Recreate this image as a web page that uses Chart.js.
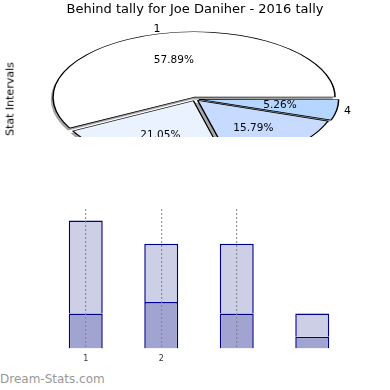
<!DOCTYPE html>
<html>
<head>
<meta charset="utf-8">
<script src="https://cdn.jsdelivr.net/npm/chart.js@4.4.1/dist/chart.umd.min.js"></script>
<style>
  html, body { margin: 0; padding: 0; background: #fff; }
  body { width: 390px; height: 390px; position: relative; overflow: hidden; font-family: "DejaVu Sans", sans-serif; }
  #title { position: absolute; left: 0; width: 390px; top: 1px; text-align: center; font-size: 13px; color: #000; }
  #ylab { position: absolute; left: 10px; top: 99px; transform: translate(-50%, -50%) rotate(-90deg); font-size: 11px; white-space: nowrap; color: #000; }
  #footer { position: absolute; left: 0; top: 372px; font-size: 12px; color: #999; }
  #pie { position: absolute; left: 0; top: 0; }
  #bars { position: absolute; left: 0; top: 200px; }
</style>
</head>
<body>
<canvas id="pie" width="390" height="137"></canvas>
<canvas id="bars" width="390" height="170"></canvas>
<div id="title">Behind tally for Joe Daniher - 2016 tally</div>
<div id="ylab">Stat Intervals</div>
<div id="footer">Dream-Stats.com</div>
<script>
// ---- data ----
const pieCategories = ["1", "2", "3", "4"];
const pieValues = [11, 4, 3, 1];
const pieColors = ["#ffffff", "#ebf2ff", "#c6dbff", "#b4d6ff"];

const barCategories = ["1", "2", "3", "4"];
const barTickLabels = ["1", "2", "", ""];
const barLower = [3, 4, 3, 1];
const barUpper = [8, 5, 6, 2];

// ---- pie (drawn counter-clockwise from east, squashed vertically) ----
const squash = 0.464;
const pieTotal = pieValues.reduce((a, b) => a + b, 0);
const revLabels = pieCategories.slice().reverse();
const revValues = pieValues.slice().reverse();
const revColors = pieColors.slice().reverse();

function arcShift(el) {
  const d = (el.options.offset || 0) / 4;
  const circ = el.endAngle - el.startAngle;
  const fix = 1 - Math.sin(Math.min(Math.PI, circ || 0));
  return { d: d, r: el.outerRadius + d * fix };
}

const squashPlugin = {
  id: 'squash',
  beforeDatasetsDraw(chart) {
    const ctx = chart.ctx;
    const a = chart.chartArea;
    const cy = (a.top + a.bottom) / 2;
    ctx.save();
    ctx.translate(0, cy);
    ctx.scale(1, squash);
    ctx.translate(0, -cy);
    // shadow under all wedges
    const meta = chart.getDatasetMeta(0);
    meta.data.forEach((el) => {
      const s = arcShift(el);
      const mid = (el.startAngle + el.endAngle) / 2;
      ctx.save();
      ctx.translate(Math.cos(mid) * s.d - 2.2, Math.sin(mid) * s.d + 2.2 / squash);
      ctx.beginPath();
      ctx.moveTo(el.x, el.y);
      ctx.arc(el.x, el.y, s.r, el.startAngle, el.endAngle);
      ctx.closePath();
      ctx.fillStyle = 'rgba(90,90,90,0.55)';
      ctx.filter = 'blur(0.6px)';
      ctx.fill();
      ctx.restore();
    });
  },
  afterDatasetsDraw(chart) {
    const ctx = chart.ctx;
    ctx.restore();
    const meta = chart.getDatasetMeta(0);
    ctx.save();
    ctx.fillStyle = '#000';
    ctx.textAlign = 'center';
    ctx.textBaseline = 'middle';
    const a = chart.chartArea;
    const cyc = (a.top + a.bottom) / 2;
    meta.data.forEach((el, i) => {
      const mid = (el.startAngle + el.endAngle) / 2;
      const R = el.outerRadius;
      const d = (el.options.offset || 0) / 4;
      const cx = el.x, cy = cyc + (el.y - cyc) * squash;
      const px = cx + Math.cos(mid) * (0.6 * R + d);
      const py = cy + Math.sin(mid) * (0.6 * R + d) * squash;
      const lx = cx + Math.cos(mid) * (1.1 * R + d);
      const ly = cy + Math.sin(mid) * (1.1 * R + d) * squash;
      const v = revValues[i];
      ctx.font = '10.5px "DejaVu Sans"';
      ctx.fillText((v / pieTotal * 100).toFixed(2) + '%', px, py);
      ctx.font = '11px "DejaVu Sans"';
      ctx.fillText(revLabels[i], lx, ly);
    });
    ctx.restore();
  }
};

new Chart(document.getElementById('pie'), {
  type: 'pie',
  data: {
    labels: revLabels,
    datasets: [{
      data: revValues,
      backgroundColor: revColors,
      borderColor: '#000',
      borderWidth: 1.5,
      offset: 16,
      clip: false
    }]
  },
  options: {
    responsive: false,
    animation: false,
    devicePixelRatio: 1,
    rotation: 90,
    radius: 137,
    layout: { padding: { left: 0, right: 0, top: 61, bottom: 0 } },
    plugins: { legend: { display: false }, tooltip: { enabled: false }, title: { display: false } }
  },
  plugins: [squashPlugin]
});

// ---- stacked bars ----
new Chart(document.getElementById('bars'), {
  type: 'bar',
  data: {
    labels: barCategories,
    datasets: [
      { data: barLower, backgroundColor: '#a1a3d1', borderColor: '#000088', borderWidth: 1.5, barPercentage: 0.9, categoryPercentage: 0.5 },
      { data: barUpper, backgroundColor: '#cdcfe6', borderColor: '#000088', borderWidth: 1.5, barPercentage: 0.9, categoryPercentage: 0.5 }
    ]
  },
  options: {
    responsive: false,
    animation: false,
    devicePixelRatio: 1,
    layout: { padding: { left: 48, right: 40, top: 9, bottom: 0 } },
    plugins: { legend: { display: false }, tooltip: { enabled: false } },
    scales: {
      x: {
        stacked: true,
        grid: {
          z: 1,
          offset: false,
          drawTicks: false,
          lineWidth: 1.2,
          color: (c) => (c.index === 3 ? 'rgba(0,0,0,0)' : 'rgba(130,130,130,0.85)')
        },
        border: { display: false, dash: [2, 2] },
        ticks: {
          padding: 6,
          color: '#333',
          font: { size: 8, family: 'DejaVu Sans' },
          callback: (v, i) => barTickLabels[i]
        }
      },
      y: { stacked: true, min: 0, max: 12, display: false }
    }
  }
});
</script>
</body>
</html>
